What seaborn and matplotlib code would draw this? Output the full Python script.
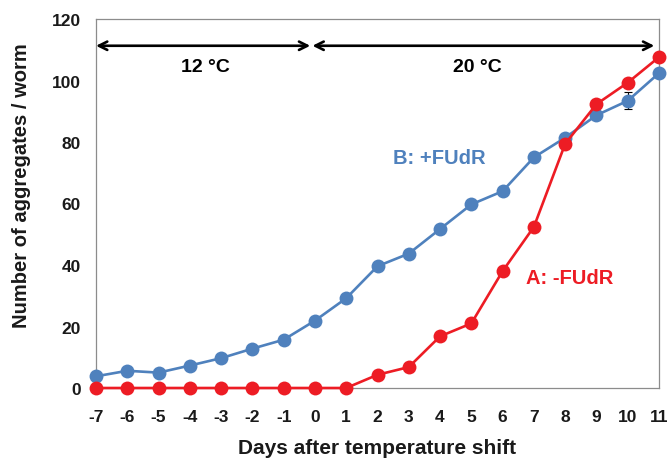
import numpy as np
import pandas as pd
import matplotlib
matplotlib.use("Agg")
import matplotlib.pyplot as plt
import seaborn as sns

# Days relative to the shift from 12 °C to 20 °C
days = [-7, -6, -5, -4, -3, -2, -1, 0, 1, 2, 3, 4, 5, 6, 7, 8, 9, 10, 11]
minus_fudr = [0, 0, 0, 0, 0, 0, 0, 0, 0, 4.3, 6.8, 16.8, 21.0, 38.0, 52.4, 79.4, 92.3, 99.3, 107.6]
plus_fudr = [3.8, 5.6, 5.0, 7.3, 9.7, 12.8, 15.7, 21.9, 29.2, 39.6, 43.7, 51.7, 59.7, 64.0, 75.0, 81.4, 88.7, 93.4, 102.4]
plus_fudr_err = [0, 0, 0, 0, 0, 0, 0, 0, 0, 0, 0, 0, 0, 0, 0, 0, 0, 2.8, 0]
series_names = ["A: -FUdR", "B: +FUdR"]
y_ticks = [0, 20, 40, 60, 80, 100, 120]

RED = "#ED1C24"
BLUE = "#4F81BD"
GRAY = "#8C8C8C"

sns.set_style("white")
plt.rcParams["font.family"] = ["Liberation Sans", "DejaVu Sans"]
plt.rcParams["font.weight"] = "bold"

df = pd.DataFrame({
    "day": days * 2,
    "count": minus_fudr + plus_fudr,
    "group": [series_names[0]] * len(days) + [series_names[1]] * len(days),
})

fig = plt.figure(figsize=(6.68, 4.60), dpi=100)
ax = fig.add_axes([96 / 668, 1 - 389 / 460, (659 - 96) / 668, (389 - 20) / 460])

# error bar drawn underneath the markers
ax.errorbar(days, plus_fudr, yerr=plus_fudr_err, fmt="none", ecolor="black",
            elinewidth=0.8, capsize=3, capthick=0.8, zorder=1, clip_on=False)

sns.lineplot(data=df, x="day", y="count", hue="group",
             palette={series_names[0]: RED, series_names[1]: BLUE},
             hue_order=[series_names[1], series_names[0]],
             marker="o", markersize=10, markeredgewidth=0, linewidth=1.9,
             legend=False, ax=ax, zorder=3)
for line in ax.lines:
    line.set_clip_on(False)

ax.set_xlim(-7, 11)
ax.set_ylim(0, 120)
ax.set_xticks(days)
ax.set_xticklabels([str(d) for d in days])
ax.set_yticks(y_ticks)

for s in ax.spines.values():
    s.set_color(GRAY)
    s.set_linewidth(0.9)
ax.tick_params(axis="both", direction="out", length=5, width=0.9, color=GRAY,
               labelsize=12.5, labelcolor="#1a1a1a")
ax.tick_params(axis="x", pad=10)
ax.tick_params(axis="y", pad=6)
for lab in ax.get_xticklabels() + ax.get_yticklabels():
    lab.set_fontweight("bold")

ax.set_xlabel("Days after temperature shift", fontsize=15, fontweight="bold",
              color="#1a1a1a", va="center")
ax.set_ylabel("Number of aggregates / worm", fontsize=14.5, fontweight="bold",
              color="#1a1a1a", va="center")
ax.xaxis.set_label_coords(0.5, (389 - 449) / 369)
ax.yaxis.set_label_coords((22 - 96) / 563, (389 - 186) / 369)

# temperature periods
arrow_kw = dict(arrowstyle="<->,head_length=0.6,head_width=0.3", color="black", lw=1.9,
                shrinkA=0, shrinkB=0)
ax.annotate("", xy=(-7, 111.3), xytext=(-0.15, 111.3), arrowprops=arrow_kw, annotation_clip=False)
ax.annotate("", xy=(-0.08, 111.3), xytext=(10.85, 111.3), arrowprops=arrow_kw, annotation_clip=False)
ax.text(-3.5, 104.7, "12 °C", ha="center", va="center", fontsize=14, fontweight="bold", color="black")
ax.text(5.2, 104.7, "20 °C", ha="center", va="center", fontsize=14, fontweight="bold", color="black")

ax.text(3.98, 75, series_names[1], ha="center", va="center", fontsize=14.5,
        fontweight="bold", color=BLUE)
ax.text(8.13, 36, series_names[0], ha="center", va="center", fontsize=14.5,
        fontweight="bold", color=RED)

fig.savefig("out.png", dpi=100)
